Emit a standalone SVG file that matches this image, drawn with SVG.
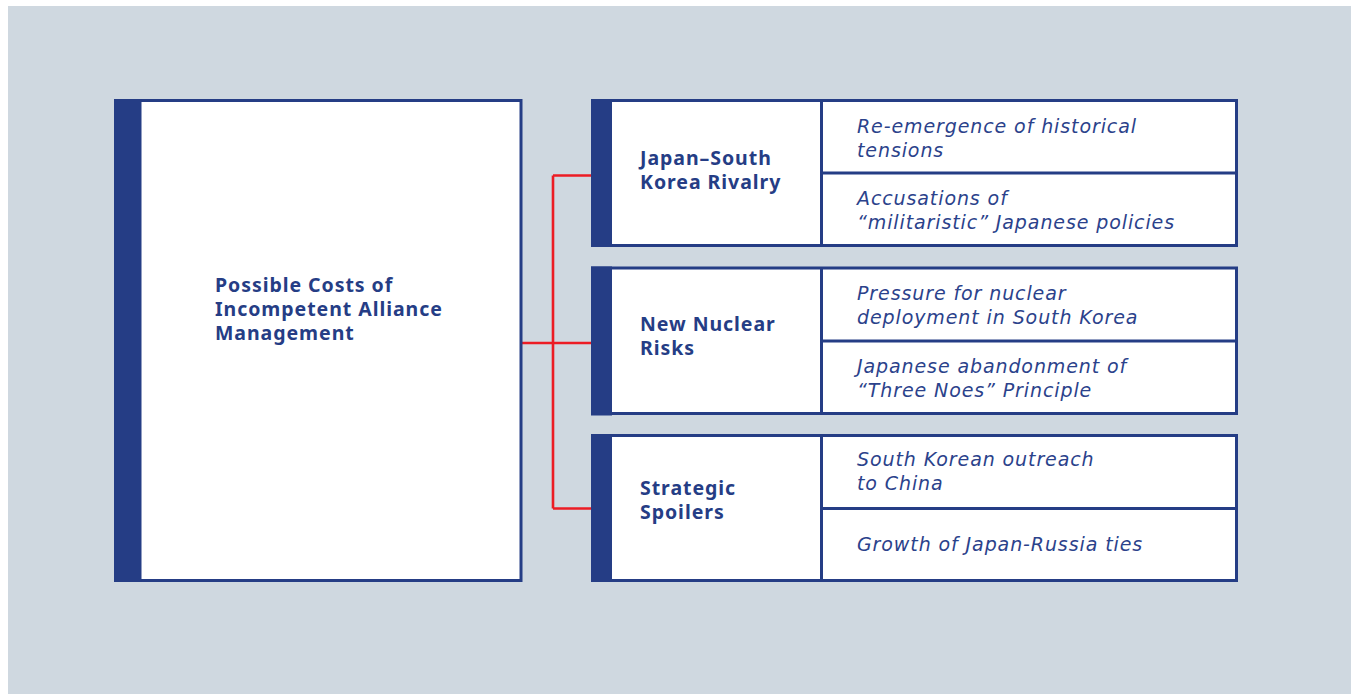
<svg xmlns="http://www.w3.org/2000/svg" width="1351" height="694" viewBox="0 0 1351 694">
  <style>
    .frame { fill: #ffffff; stroke: #253d85; stroke-width: 3; }
    .bar { fill: #253d85; }
    .rule { stroke: #253d85; stroke-width: 3; fill: none; }
    .link { stroke: #ec1c24; stroke-width: 2.6; fill: none; }
    .head { font-family: "Noto Sans", "Liberation Sans", sans-serif; font-weight: 700; font-size: 19.5px; letter-spacing: 0.95px; fill: #253d85; }
    .item { font-family: "DejaVu Sans", "Noto Sans", sans-serif; font-style: italic; font-size: 19px; letter-spacing: 0.9px; fill: #2b428b; }
  </style>

  <rect x="0" y="0" width="1351" height="694" fill="#ffffff"/>
  <rect x="8" y="6" width="1343" height="688" fill="#cfd8e0"/>

  <!-- connectors -->
  <g id="connectors">
    <path class="link" d="M522 343 H591"/>
    <path class="link" d="M553 175.5 V508.5"/>
    <path class="link" d="M553 175.5 H591"/>
    <path class="link" d="M553 508.5 H591"/>
  </g>

  <!-- root node -->
  <g id="root">
    <rect class="frame" x="115.5" y="100.5" width="405.5" height="480"/>
    <rect class="bar" x="114" y="99" width="27.5" height="483"/>
    <text class="head">
      <tspan x="215" y="292">Possible Costs of</tspan>
      <tspan x="215" y="316">Incompetent Alliance</tspan>
      <tspan x="215" y="340">Management</tspan>
    </text>
  </g>

  <!-- branch 1 -->
  <g id="rivalry">
    <rect class="frame" x="592.5" y="100.5" width="644" height="145"/>
    <rect class="bar" x="591" y="99" width="21" height="148"/>
    <path class="rule" d="M821.5 100 V246 M821 173 H1236"/>
    <text class="head">
      <tspan x="640" y="165">Japan–South</tspan>
      <tspan x="640" y="189">Korea Rivalry</tspan>
    </text>
    <text class="item">
      <tspan x="857" y="133">Re-emergence of historical</tspan>
      <tspan x="857" y="157">tensions</tspan>
    </text>
    <text class="item">
      <tspan x="857" y="205">Accusations of</tspan>
      <tspan x="857" y="229">“militaristic” Japanese policies</tspan>
    </text>
  </g>

  <!-- branch 2 -->
  <g id="nuclear">
    <rect class="frame" x="592.5" y="268" width="644" height="145.5"/>
    <rect class="bar" x="591" y="266.5" width="21" height="149"/>
    <path class="rule" d="M821.5 268 V414 M821 341 H1236"/>
    <text class="head">
      <tspan x="640" y="331">New Nuclear</tspan>
      <tspan x="640" y="355">Risks</tspan>
    </text>
    <text class="item">
      <tspan x="857" y="300">Pressure for nuclear</tspan>
      <tspan x="857" y="324">deployment in South Korea</tspan>
    </text>
    <text class="item">
      <tspan x="857" y="373">Japanese abandonment of</tspan>
      <tspan x="857" y="397">“Three Noes” Principle</tspan>
    </text>
  </g>

  <!-- branch 3 -->
  <g id="spoilers">
    <rect class="frame" x="592.5" y="435.5" width="644" height="145"/>
    <rect class="bar" x="591" y="434" width="21" height="148"/>
    <path class="rule" d="M821.5 435 V581 M821 508.5 H1236"/>
    <text class="head">
      <tspan x="640" y="495">Strategic</tspan>
      <tspan x="640" y="519">Spoilers</tspan>
    </text>
    <text class="item">
      <tspan x="857" y="466">South Korean outreach</tspan>
      <tspan x="857" y="490">to China</tspan>
    </text>
    <text class="item">
      <tspan x="857" y="551">Growth of Japan-Russia ties</tspan>
    </text>
  </g>
</svg>
